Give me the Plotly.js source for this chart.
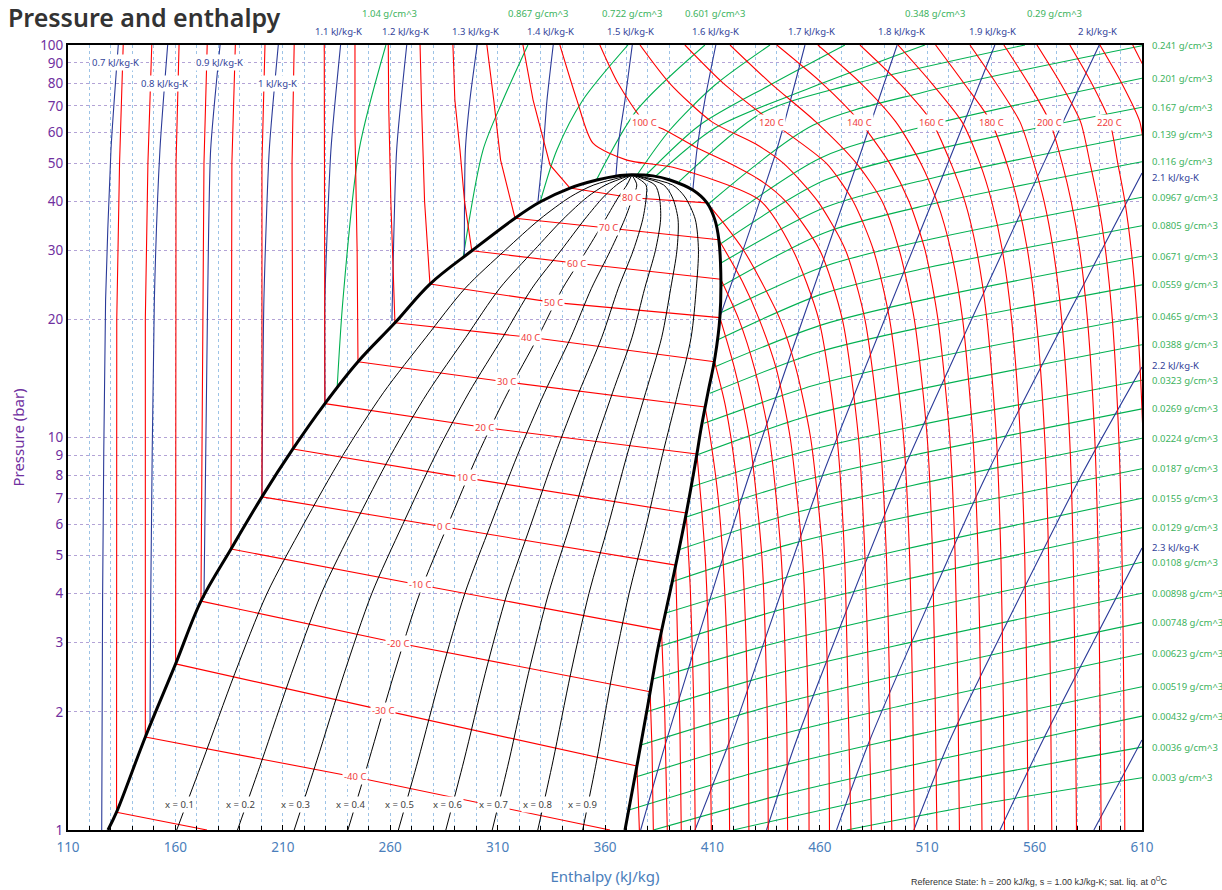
<!DOCTYPE html>
<html><head><meta charset="utf-8">
<script src="https://cdn.plot.ly/plotly-3.0.1.min.js"></script>
<style>html,body{margin:0;padding:0;background:#fff}#chart{width:1222px;height:890px}</style>
</head><body><div id="chart"></div>
<script>
// ---------- saturation dome ----------
const domeLiqP = [1.0, 1.11, 1.726, 2.65, 3.83, 5.2, 7.06, 9.35, 12.2, 15.6, 19.6, 24.6, 29.9, 36.2, 39.8, 43.2, 45.3, 46.4, 46.7];
const domeLiqH = [128.6, 132.6, 146.0, 160.1, 171.9, 185.9, 200.3, 214.7, 229.6, 245.0, 262.2, 278.5, 298.0, 318.1, 329.7, 343.7, 356.2, 365.6, 372.5];
const domeVapP = [46.7, 46.4, 45.3, 42.7, 39.6, 35.8, 31.9, 26.3, 20.3, 16.0, 12.98, 10.45, 9.02, 6.27, 4.29, 2.93, 2.0, 1.364, 1.0];
const domeVapH = [372.5, 382.3, 390.2, 400.9, 407.5, 411.2, 413.0, 413.9, 413.5, 411.2, 407.9, 404.6, 402.7, 397.5, 391.3, 384.8, 379.4, 373.9, 369.3];

// ---------- quality lines ----------
const qualityX = [0.1, 0.2, 0.3, 0.4, 0.5, 0.6, 0.7, 0.8, 0.9];
const qualityP = [1, 1.5, 2.5, 4, 6, 9, 13, 18, 24, 30, 36, 41, 44, 46.7];
const qualityH = [
 [160.6,172.7,187.6,202.6,219.6,237.9,256.8,276.7,294.9,313.5,329.7,343.8,354.8,372.5],
 [188.9,200.2,214.0,227.9,243.5,260.2,277.4,295.2,311.0,327.0,340.5,351.8,360.3,372.5],
 [215.3,225.8,238.5,251.4,265.8,281.0,296.6,312.4,326.0,339.6,350.6,359.3,365.4,372.5],
 [240.3,250.0,261.8,273.7,286.9,300.6,314.7,328.7,340.3,351.5,360.2,366.3,370.2,372.5],
 [263.8,272.9,283.7,294.7,306.8,319.2,331.8,344.1,353.7,362.6,369.2,373.0,374.8,372.5],
 [285.9,294.3,304.2,314.4,325.5,336.6,347.8,358.5,366.2,373.2,377.6,379.2,379.1,372.5],
 [307.5,315.3,324.3,333.7,343.8,353.6,363.5,372.6,378.5,383.5,385.9,385.3,383.2,372.5],
 [328.7,335.8,344.0,352.5,361.6,370.2,378.9,386.4,390.6,393.5,394.0,391.3,387.3,372.5],
 [349.6,356.1,363.4,371.2,379.3,386.7,394.0,400.1,402.5,403.5,402.0,397.2,391.4,372.5]
];
const qualityLabelH = [162.1, 190.1, 216.1, 241.3, 264.5, 286.9, 308.3, 328.8, 349.3];
const qualityLabelP = 1.158;

// ---------- subcritical isotherms (liquid / two-phase / vapour parts) ----------
const subTemps = [-50,-40,-30,-20,-10,0,10,20,30,40,50,60,70,80];
const subLiqP = [[1.11,20,50,100],[1.726,20,50,100],[2.65,20,50,100],[3.83,20,50,100],[5.2,20,50,100],[7.06,20,50,100],[9.35,20,50,100],[12.2,30,60,100],[15.6,30,60,100],[19.6,40,70,100],[24.6,40,70,100],[29.9,40,53.9,72.5,100],[36.2,50.9,72.5,100],[43.2,49.5,72.5,100]];
const subLiqH = [[132.6,132.7,134.0,135.7],[146.0,146.0,147.2,149.0],[160.1,160.0,160.3,161.7],[171.9,172.6,173.3,174.8],[185.9,186.2,186.3,187.9],[200.3,200.2,200.3,201.7],[214.7,214.4,214.3,215.3],[229.6,229.4,229.2,229.3],[245.0,244.6,243.6,243.6],[262.2,260.3,259.3,259.1],[278.5,276.0,274.6,273.9],[298.0,294.6,292.5,290.1,289.2],[318.1,311.4,308.2,305.0],[343.7,334.4,326.5,321.8]];
const subDomeP = [[1.11,1.0],[1.726,1.365,1.0],[2.65,2.02,1.456],[3.83,2.995,2.25],[5.2,4.21,3.23],[7.06,5.92,4.73],[9.35,7.89,6.42],[12.2,10.6,9.08],[15.6,13.85,11.96],[19.6,18.0,15.6],[24.6,22.1,20.2],[29.9,27.8,25.3],[36.2,34.2,31.9],[43.2,40.8,39.6]];
const subDomeH = [[132.6,174.7],[146.0,243.6,362.3],[160.1,256.6,374.8],[171.9,263.6,381.0],[185.9,273.9,386.3],[200.3,285.0,392.9],[214.7,295.3,397.8],[229.6,304.1,402.8],[245.0,314.3,406.6],[262.2,325.1,411.0],[278.5,335.8,413.5],[298.0,346.9,413.9],[318.1,361.4,413.0],[343.7,372.5,407.5]];
const subVapP = [[],[],[1.456,1.2,1],[2.25,1.6,1],[3.23,2,1],[4.73,3,1.8,1],[6.42,4,2,1],[9.08,7,5,3,1],[11.96,10,7,4,2,1],[15.6,12,8,5,2,1],[20.2,15,10,5,2,1],[25.3,20,15,10,5,2,1],[31.9,25,20,15,10,5,2,1],[39.6,35,30,25,20,15,10,5,2,1]];
const subVapH = [[],[],[374.8,375.5,376],[381.0,381.9,382.5],[386.3,387.8,389],[392.9,393.8,394.9,395.5],[397.8,399.8,401.4,402],[402.8,404.6,406.6,408.2,409.5],[406.6,409,412.7,415.8,417.5,418],[411.0,416.1,421,424,426.5,427],[413.5,420.3,427.2,433,435.5,436],[413.9,422.3,429.6,436.5,442,444.5,445],[413.0,423.9,431.8,439.7,446.2,451.9,454.6,455],[407.5,415.5,424.5,432.7,441.5,448.9,455.7,461.4,464,464.5]];

// ---------- supercritical isotherms ----------
const superTemps = [90,100,110,120,130,140,150,160,170,180,190,200,210,220,230,240];
const stdP = [100,80,63.7,50,40,30,20,10,5,2,1];
const superP = [
 [100,72.5,56.2,50.9,48.8,40.2,30,20,10,5,2,1],
 [100,80,63.7,61.1,55,50,45.3,40,30,20,10,5,2,1],
 [100,80,63.7,56,50,40,30,20,10,5,2,1],
 stdP, stdP, stdP, stdP, stdP, stdP, stdP, stdP, stdP, stdP, stdP, stdP, stdP
];
const superH = [
 [339.0,346.9,354.4,370.2,391.6,432.1,447.5,459.5,468,471.5,473.3,474.5],
 [357.6,366,378.6,387,402,418,432.1,444,460,470.5,478,481,483,484],
 [376.3,390,409.8,430,443,459,472,481,488,491,492.7,493.5],
 [397.2,415,437.7,463,475.5,485,492.5,499,501.8,503.3,504],
 [418.2,437,458.2,477,489,497,504,510,512.5,513.8,514.5],
 [440,461,478.7,492.5,501.5,509,515,520.5,523,524.4,525],
 [459.1,479,495.4,507,514.5,521,526.5,531.3,533.7,535,535.5],
 [478.7,497,512.2,521,527.5,533,537.8,542.2,544.3,545.5,546],
 [496.4,512,526.2,534.5,540,545,549.3,553.4,555.4,556.5,557],
 [513.9,527,539.7,547,552,556.7,560.8,564.7,566.5,567.5,568],
 [529.9,542,553.2,559.6,564.4,568.7,572.6,576.3,578,579,579.5],
 [545.7,557,567.1,572.8,577,581,584.6,588,589.6,590.5,591],
 [561.1,572,581.4,585.8,589.5,593,596.2,599.2,600.7,601.6,602],
 [576.4,586.5,595,598.7,602,605,607.8,610.5,611.8,612.6,613],
 [590.4,600.5,609,611.8,614.5,617,619.5,621.8,622.9,623.6,624],
 [605.7,614.5,621.5,624.5,627,629.5,632,634,634.5,634.8,635]
];
const hotLabelTemps = [100,120,140,160,180,200,220];
const hotLabelH = [378.6,437.7,478.7,512.2,539.7,567.1,595.0];
const hotLabelP = 63.65;

// ---------- isentropes ----------
const entropyVals = ['0.7','0.8','0.9','1','1.1','1.2','1.3','1.4','1.5','1.6','1.7','1.8','1.9','2','2.1','2.2','2.3','2.4'];
const entropyP = [[1,3.855,22.4,54,100],[1.885,3.855,22.4,54,100],[3.9,22.4,54,100],[7.06,22.4,54,100],[12.2,22.4,54,100],[19.8,54,100],[29,54,72.4,100],[40.0,54,72.4,100],[46.4,57.3,72.4,100],[42.7,54,72.4,100],[20.3,54,100],[1,1.696,7.885,54,100],[1,1.696,7.885,54,100],[1,1.696,7.885,54,100],[1,1.696,7.885,47.2],[1,1.696,7.885,15.12],[1,1.696,5.23],[1,1.696]];
const entropyH = [[125.7,126.1,127.5,130.0,133.4],[148.2,148.5,150.2,152.8,156.4],[173.3,175.0,176.4,180.8],[200.3,201.2,203.7,207.9],[229.6,229.6,232.4,236.9],[260.8,263.0,267.7],[294.5,295.0,297.1,300.5],[328.8,331.2,333.0,335.9],[365.1,366.5,369.3,372.7],[400.9,402.8,406.5,411.6],[413.5,439.9,453.1],[376.6,388.7,426.7,479.5,496.0],[401.9,418.2,460.8,522.1,541.5],[435.2,449.2,497.3,567.1,590.1],[467.8,483.3,536.9,610.0],[503.8,520.6,581.1,610.0],[543.9,563.9,610.0],[587.6,610.0]];
const entropyInnerText = ['0.7','0.8','0.9','1'];
const entropyInnerH = [132.3,154.7,180.3,207.3];
const entropyInnerP = [90.5,79.6,90.5,79.6];
const entropyTopText = ['1.1','1.2','1.3','1.4','1.5','1.6','1.7','1.8','1.9','2'];
const entropyTopH = [235.7,266.9,299.9,334.8,372.1,411.6,456.3,498.2,540.6,589.5];
const entropyRightText = ['2.1','2.2','2.3'];
const entropyRightP = [45.9,15.25,5.245];

// ---------- isochores ----------
const densVals = ['1.04','0.867','0.722','0.601','0.501','0.418','0.348','0.29','0.241','0.201','0.167','0.139','0.116','0.0967','0.0805','0.0671','0.0559','0.0465','0.0388','0.0323','0.0269','0.0224','0.0187','0.0155','0.0129','0.0108','0.00898','0.00748','0.00623','0.00519','0.00432','0.0036','0.003'];
const densP = [
 [13.37,22.4,54.0,100],[28.84,54.0,72.4,100],[39.59,54.0,72.4,100],[45.3,68.31,100],
 [46.65,60.73,79.08,100],[46.37,62.55,79.08,100],[46.10,61.45,77.69,100],[44.84,66.92,79.02,100],
 [39.12,62.41,75.71,99.6],[34.44,51.71,62.44,82.31],[30.94,45.13,53.74,69.41],[27.79,38.58,45.71,59.05],
 [24.23,33.31,39.28,50.41],[20.72,27.32,31.99,40.95],[17.72,23.26,27.14,34.63],[15.15,19.36,22.58,28.95],
 [12.96,16.49,19.18,24.49],[10.87,13.56,15.77,20.30],[9.025,11.34,13.26,17.23],[7.492,9.208,10.72,13.99],
 [6.263,7.725,9.025,11.83],[5.170,6.419,7.527,9.953],[4.291,5.342,6.278,8.323],[3.565,4.388,5.184,7.000],
 [2.931,3.634,4.317,5.888],[2.421,2.991,3.544,4.812],[2.002,2.480,2.944,4.011],[1.646,2.054,2.453,3.375],
 [1.362,1.703,2.037,2.813],[1.124,1.405,1.680,2.318],[1,1.218,1.437,1.950],[1,1.302,1.626],[1,1.180,1.359]
];
const densH = [
 [235.3,238.0,245.5,258.0],[294.0,303.2,312.5,324.1],[329.7,337.6,349.7,370.7],[356.0,374.9,406.5],
 [374.9,390.2,411.2,436.8],[378.6,404.2,436.8,471.7],[383.2,411.2,455.4,508.9],[394.5,432.6,473.6,555.5],
 [407.6,456.8,507.8,610],[411.8,460.9,510.6,610],[413.0,461.9,511.3,610],[413.8,462.6,511.7,610],
 [413.9,462.6,511.7,610],[413.4,462.3,511.5,610],[412.3,461.6,511.0,610],[411.2,460.9,510.6,610],
 [408.9,459.1,509.4,610],[406.1,457.0,508.0,610],[402.7,454.5,506.3,610],[400.3,452.7,505.2,610],
 [397.5,450.6,503.8,610],[394.1,448.0,502.0,610],[391.3,445.9,500.6,610],[387.9,443.4,498.9,610],
 [384.8,441.1,497.4,610],[382.0,439.0,496.0,610],[379.4,437.0,494.7,610],[376.7,435.0,493.3,610],
 [373.9,432.9,491.9,610],[371.1,430.8,490.5,610],[382.5,439.3,496.2,610],[419.7,514.8,610],[472.5,541.2,610]
];
const densTopText = ['1.04','0.867','0.722','0.601','0.348','0.29'];
const densTopH = [259.9,328.8,372.5,411.2,513.6,569.4];

// ---------- axis ticks ----------
const pTicks = [1,2,3,4,5,6,7,8,9,10,20,30,40,50,60,70,80,90,100];
const pTickText = pTicks.map(String);

// ---------- build ----------
const F = 'Noto Sans, Open Sans, sans-serif';
const RED = '#FF0000', GREEN = '#00B050', BLUE = '#2B3A98', BLACK = '#000000';
const RED_T = '#F03C3C', GREEN_T = '#3DB35E', BLUE_T = '#33449A';

function multi(listP, listH) {
  const x = [], y = [];
  for (let i = 0; i < listP.length; i++) {
    if (!listP[i].length) continue;
    for (let j = 0; j < listP[i].length; j++) { x.push(listH[i][j]); y.push(listP[i][j]); }
    x.push(null); y.push(null);
  }
  return {x, y};
}
function lineTrace(d, color, width, shape, smoothing) {
  const line = {color, width, shape};
  if (shape === 'spline') line.smoothing = smoothing;
  return {type:'scatter', mode:'lines', x:d.x, y:d.y, line, hoverinfo:'skip', connectgaps:false, cliponaxis:true};
}

const traces = [];
traces.push(lineTrace(multi(densP, densH), GREEN, 1.1, 'spline', 0.8));
traces.push(lineTrace(multi(entropyP, entropyH), BLUE, 1.1, 'spline', 0.6));
traces.push(lineTrace(multi(subLiqP.concat(subDomeP), subLiqH.concat(subDomeH)), RED, 1.1, 'linear'));
traces.push(lineTrace(multi(subVapP.concat(superP), subVapH.concat(superH)), RED, 1.1, 'spline', 0.7));
traces.push(lineTrace(multi(qualityH.map(() => qualityP), qualityH), BLACK, 1, 'spline', 0.8));
traces.push(lineTrace({x: domeLiqH.concat(domeVapH), y: domeLiqP.concat(domeVapP)}, BLACK, 3, 'spline', 1.0));

const ann = [];
function inner(h, p, text, color) {
  ann.push({x:h, y:Math.log10(p), xref:'x', yref:'y', text, showarrow:false,
    font:{family:F, size:9.5, color}, bgcolor:'#ffffff', borderpad:1});
}
for (let i = 0; i < subTemps.length; i++) {
  if (subDomeP[i].length > 2) inner(subDomeH[i][1], subDomeP[i][1], subTemps[i] + ' C', RED_T);
}
hotLabelTemps.forEach((t, i) => inner(hotLabelH[i], hotLabelP, t + ' C', RED_T));
qualityX.forEach((q, i) => inner(qualityLabelH[i], qualityLabelP, 'x = ' + q, '#404040'));
entropyInnerText.forEach((s, i) => inner(entropyInnerH[i], entropyInnerP[i], s + ' kJ/kg-K', BLUE_T));
entropyTopText.forEach((s, i) => ann.push({x:entropyTopH[i], y:1.0178, xref:'x', yref:'paper', text:s + ' kJ/kg-K',
  showarrow:false, font:{family:F, size:9.5, color:BLUE_T}, yanchor:'middle'}));
densTopText.forEach((s, i) => ann.push({x:densTopH[i], y:1.0395, xref:'x', yref:'paper', text:s + ' g/cm^3',
  showarrow:false, font:{family:F, size:9.5, color:GREEN_T}, yanchor:'middle'}));
densVals.forEach((s, i) => {
  const hs = densH[i], ps = densP[i];
  if (hs[hs.length - 1] >= 610) ann.push({x:1.0074, y:Math.log10(ps[ps.length - 1]), xref:'paper', yref:'y',
    text:s + ' g/cm^3', showarrow:false, xanchor:'left', font:{family:F, size:9.5, color:GREEN_T}});
});
entropyRightText.forEach((s, i) => ann.push({x:1.0074, y:Math.log10(entropyRightP[i]), xref:'paper', yref:'y',
  text:s + ' kJ/kg-K', showarrow:false, xanchor:'left', font:{family:F, size:9.5, color:BLUE_T}}));
ann.push({x:1.026, y:-0.0655, xref:'paper', yref:'paper', xanchor:'right', yanchor:'middle', showarrow:false,
  text:'Reference State: h = 200 kJ/kg, s = 1.00 kJ/kg-K; sat. liq. at 0<sup>O</sup>C',
  font:{family:'Liberation Sans, Arial, sans-serif', size:9, color:'#333'}});

const layout = {
  width:1222, height:890,
  margin:{l:68, r:80, t:45, b:60, pad:0},
  paper_bgcolor:'#ffffff', plot_bgcolor:'#ffffff',
  showlegend:false,
  title:{text:'Pressure and enthalpy', x:0.0065, xref:'container', xanchor:'left', y:0.9895, yref:'container', yanchor:'top',
    font:{family:F, size:25, color:'#333333', weight:600}},
  xaxis:{range:[110,610], tick0:110, dtick:50, ticks:'inside', ticklen:5, tickcolor:'#000',
    showline:true, mirror:true, linecolor:'#000', linewidth:2, zeroline:false,
    showgrid:true, gridcolor:'#9DC3E6', griddash:'dot', gridwidth:1,
    minor:{dtick:10, showgrid:true, gridcolor:'#9DC3E6', griddash:'dot', gridwidth:1, ticks:'inside', ticklen:4, tickcolor:'#000'},
    tickfont:{family:F, size:13.5, color:'#4A7EBB'}, ticklabelstandoff:4,
    title:{text:'Enthalpy (kJ/kg)', font:{family:F, size:15, color:'#4A7EBB'}, standoff:16}},
  yaxis:{type:'log', range:[0,2], tickvals:pTicks, ticktext:pTickText, ticks:'',
    showline:true, mirror:true, linecolor:'#000', linewidth:2, zeroline:false,
    showgrid:true, gridcolor:'#B3A3D6', griddash:'dot', gridwidth:1,
    tickfont:{family:F, size:13.5, color:'#7030A0'},
    title:{text:'Pressure (bar)', font:{family:F, size:15, color:'#7030A0'}, standoff:12}},
  annotations:ann
};

Plotly.newPlot('chart', traces, layout, {staticPlot:true, displayModeBar:false});
</script>
</body></html>
